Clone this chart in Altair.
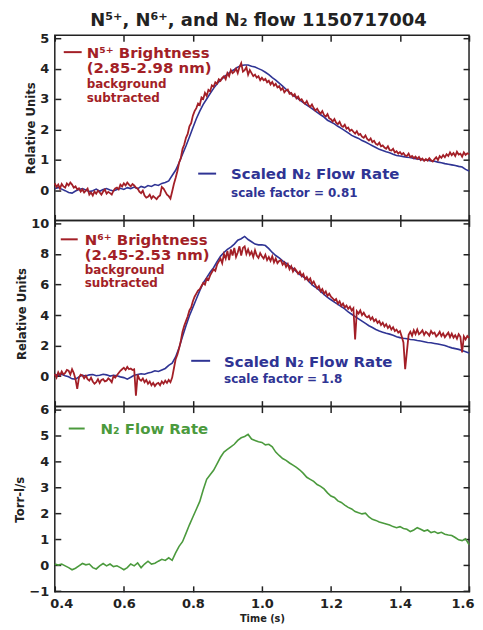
import altair as alt
import pandas as pd

# ---------------- data ----------------
# N5+ brightness, sampled every 0.005 s from 0.40 s to 1.60 s
n5_brightness = [
    0.22, 0.10, 0.18, 0.05, 0.20, 0.12, 0.08, 0.22, 0.15, 0.25,
    0.18, 0.08, 0.12, 0.02, 0.06, -0.05, 0.02, -0.08, -0.02, 0.05,
    -0.15, -0.08, -0.18, -0.05, -0.12, -0.02, -0.08, -0.15, -0.05, 0.02,
    -0.12, -0.06, -0.10, -0.15, -0.02, 0.05, 0.08, 0.02, 0.18, 0.12,
    0.22, 0.15, 0.25, 0.18, 0.12, 0.20, 0.15, 0.08, 0.05, -0.05,
    -0.10, -0.02, -0.18, -0.25, -0.22, -0.15, -0.28, -0.20, -0.25, -0.30,
    -0.22, -0.18, 0.10, 0.05, -0.05, -0.15, -0.20, -0.28, -0.05, 0.20,
    0.40, 0.62, 0.90, 1.05, 1.35, 1.50, 1.72, 1.85, 2.10, 2.20,
    2.45, 2.60, 2.70, 2.85, 2.80, 3.05, 3.00, 3.20, 3.10, 3.30,
    3.25, 3.45, 3.40, 3.55, 3.50, 3.65, 3.60, 3.70, 3.75, 3.65,
    3.85, 3.75, 3.95, 3.85, 3.90, 4.00, 3.85, 4.05, 4.18, 3.90,
    3.95, 4.05, 3.80, 3.95, 3.85, 3.75, 3.80, 3.70, 3.75, 3.62,
    3.70, 3.62, 3.66, 3.55, 3.60, 3.48, 3.56, 3.44, 3.50, 3.38,
    3.42, 3.30, 3.36, 3.22, 3.28, 3.31, 3.17, 3.20, 3.10, 3.16,
    3.02, 3.08, 2.96, 2.99, 2.90, 2.84, 2.93, 2.80, 2.74, 2.82,
    2.70, 2.62, 2.68, 2.58, 2.52, 2.60, 2.47, 2.42, 2.50, 2.36,
    2.33, 2.26, 2.34, 2.22, 2.17, 2.25, 2.12, 2.08, 2.15, 2.02,
    2.06, 1.95, 1.99, 1.92, 1.86, 1.94, 1.82, 1.85, 1.76, 1.72,
    1.80, 1.68, 1.63, 1.70, 1.58, 1.62, 1.52, 1.49, 1.56, 1.44,
    1.47, 1.40, 1.36, 1.44, 1.32, 1.30, 1.36, 1.24, 1.28, 1.20,
    1.25, 1.17, 1.22, 1.14, 1.12, 1.20, 1.08, 1.12, 1.05, 1.10,
    1.03, 1.09, 0.99, 1.04, 0.96, 1.02, 0.97, 1.05, 0.98, 0.94,
    1.02, 1.08, 0.99, 1.12, 1.06, 1.15, 1.08, 1.18, 1.12, 1.24,
    1.15, 1.22, 1.12, 1.26, 1.17, 1.20, 1.10, 1.24, 1.16, 1.21,
    1.18,
]

# N6+ brightness, sampled every 0.005 s from 0.40 s to 1.60 s
n6_brightness = [
    0.15, -0.10, 0.25, 0.05, 0.30, 0.10, 0.20, 0.40, 0.35, 0.10,
    0.45, 0.20, -0.20, -0.84, -0.10, 0.10, 0.05, -0.15, 0.02, -0.20,
    -0.30, -0.10, -0.35, -0.50, -0.40, -0.20, -0.45, -0.25, -0.20, -0.35,
    -0.30, -0.15, -0.25, -0.40, 0.00, -0.10, 0.05, 0.20, 0.35, 0.45,
    0.55, 0.40, 0.60, 0.45, 0.50, 0.40, 0.45, -1.28, 0.10, -0.20,
    -0.30, -0.15, -0.40, -0.25, -0.50, -0.35, -0.60, -0.45, -0.65, -0.50,
    -0.45, -0.60, -0.35, -0.50, -0.30, -0.45, -0.25, -0.40, -0.10, 0.50,
    1.10, 1.40, 1.80, 2.30, 2.90, 3.30, 3.60, 3.90, 4.30, 4.50,
    4.90, 5.20, 5.40, 5.60, 5.70, 5.90, 6.10, 6.00, 6.40, 6.30,
    6.60, 6.80, 7.00, 6.90, 7.30, 7.50, 7.70, 7.40, 8.00, 7.70,
    8.20, 7.60, 8.30, 7.90, 8.40, 7.80, 8.10, 8.50, 7.90, 8.40,
    8.50, 8.00, 8.30, 7.95, 8.15, 7.80, 8.25, 7.90, 7.75, 8.05,
    7.85, 7.70, 7.95, 7.60, 7.80, 7.55, 7.85, 7.45, 7.70, 7.40,
    7.55, 7.60, 7.30, 7.45, 7.15, 7.35, 7.00, 7.20, 6.85, 7.05,
    6.90, 6.70, 6.85, 6.55, 6.70, 6.35, 6.50, 6.25, 6.40, 6.05,
    6.20, 5.95, 5.75, 5.90, 5.55, 5.70, 5.40, 5.55, 5.25, 5.40,
    5.20, 5.10, 4.95, 5.05, 4.75, 4.90, 4.60, 4.75, 4.50, 4.62,
    4.40, 4.55, 4.30, 4.45, 2.40, 4.25, 4.10, 4.30, 4.00, 4.15,
    3.95, 3.85, 3.95, 3.70, 3.85, 3.60, 3.72, 3.48, 3.60, 3.35,
    3.50, 3.25, 3.40, 3.15, 3.30, 3.05, 3.20, 2.95, 3.05, 2.85,
    2.95, 2.60, 2.20, 0.45, 1.60, 2.70, 2.90, 2.65, 3.00, 2.75,
    3.05, 2.75, 2.85, 3.00, 2.70, 2.90, 2.80, 2.65, 2.95, 2.78,
    2.85, 2.60, 2.72, 2.90, 2.62, 2.80, 2.55, 2.70, 2.85, 2.55,
    2.78, 2.52, 2.68, 2.45, 2.75, 2.58, 1.55, 2.60, 2.40, 2.62,
    2.50,
]

# Scaled N2 flow rate in the top panel (x 0.81), every 0.01 s
scaled_flow_top = [
    0.05, 0.08, 0.03, -0.02, -0.08, -0.10, -0.03, 0.02, 0.05, 0.00,
    -0.05, -0.02, 0.03, -0.04, 0.02, 0.05, 0.00, -0.03, 0.02, 0.06,
    0.02, 0.08, 0.05, 0.10, 0.04, 0.12, 0.08, 0.15, 0.12, 0.18,
    0.15, 0.22, 0.25, 0.30, 0.48, 0.65, 0.90, 1.18, 1.45, 1.75,
    2.05, 2.35, 2.60, 2.82, 3.00, 3.18, 3.35, 3.50, 3.62, 3.72,
    3.82, 3.90, 3.97, 4.05, 4.10, 4.12, 4.12, 4.08, 4.05, 4.00,
    3.95, 3.88, 3.80, 3.70, 3.62, 3.52, 3.42, 3.32, 3.22, 3.12,
    3.05, 2.96, 2.88, 2.80, 2.72, 2.64, 2.56, 2.48, 2.40, 2.30,
    2.24, 2.18, 2.10, 2.03, 1.96, 1.88, 1.80, 1.75, 1.70, 1.63,
    1.58, 1.52, 1.46, 1.40, 1.34, 1.30, 1.26, 1.23, 1.18, 1.14,
    1.12, 1.10, 1.08, 1.07, 1.04, 1.02, 1.01, 0.99, 0.98, 0.96,
    0.95, 0.92, 0.90, 0.87, 0.85, 0.83, 0.81, 0.78, 0.76, 0.68,
    0.63,
]

# Scaled N2 flow rate in the middle panel (x 1.8), every 0.01 s
scaled_flow_mid = [
    0.10, 0.05, 0.12, 0.02, -0.05, -0.18, -0.20, -0.05, 0.05, 0.00,
    0.08, 0.10, 0.02, 0.05, 0.12, 0.08, 0.00, 0.05, 0.02, -0.05,
    -0.10, -0.20, -0.08, 0.05, 0.10, 0.15, 0.12, 0.20, 0.25, 0.35,
    0.30, 0.40, 0.50, 0.70, 0.85, 1.25, 1.85, 2.60, 3.30, 3.95,
    4.50, 5.05, 5.60, 6.10, 6.45, 6.80, 7.10, 7.50, 7.85, 8.10,
    8.30, 8.45, 8.65, 8.90, 9.00, 9.15, 8.95, 8.80, 8.65, 8.60,
    8.60, 8.55, 8.35, 8.10, 7.90, 7.75, 7.55, 7.40, 7.20, 7.05,
    6.85, 6.65, 6.50, 6.35, 6.10, 5.90, 5.75, 5.55, 5.35, 5.15,
    5.00, 4.85, 4.70, 4.55, 4.40, 4.20, 4.05, 3.90, 3.75, 3.60,
    3.45, 3.30, 3.18, 3.05, 2.95, 2.88, 2.80, 2.75, 2.68, 2.58,
    2.52, 2.48, 2.45, 2.40, 2.38, 2.33, 2.30, 2.25, 2.20, 2.18,
    2.14, 2.10, 2.05, 2.00, 1.92, 1.85, 1.80, 1.75, 1.68, 1.60,
    1.52,
]

# N2 flow rate (Torr-l/s), every 0.01 s
n2_flow = [
    0.04, 0.00, 0.04, -0.03, -0.10, -0.18, -0.12, -0.03, 0.06, 0.01,
    0.04, -0.10, -0.15, -0.03, 0.06, -0.03, 0.04, -0.06, -0.03, -0.10,
    -0.18, -0.10, 0.04, -0.03, 0.08, -0.10, 0.04, 0.15, 0.04, 0.07,
    0.15, 0.22, 0.18, 0.28, 0.18, 0.47, 0.72, 0.90, 1.22, 1.55,
    1.85, 2.15, 2.45, 2.90, 3.30, 3.48, 3.65, 3.90, 4.15, 4.35,
    4.45, 4.55, 4.65, 4.80, 4.90, 4.95, 5.03, 4.85, 4.80, 4.75,
    4.72, 4.63, 4.65, 4.55, 4.35, 4.22, 4.10, 4.03, 3.93, 3.85,
    3.76, 3.66, 3.53, 3.38, 3.30, 3.22, 3.10, 3.03, 2.93, 2.78,
    2.66, 2.60, 2.47, 2.41, 2.31, 2.22, 2.16, 2.06, 2.01, 1.97,
    2.00, 1.85, 1.76, 1.72, 1.66, 1.62, 1.58, 1.54, 1.48, 1.44,
    1.48, 1.41, 1.38, 1.29, 1.35, 1.44, 1.38, 1.31, 1.35, 1.25,
    1.29, 1.22, 1.26, 1.19, 1.16, 1.14, 1.06, 0.97, 0.94, 1.01,
    0.79,
]

x_ticks = [0.4, 0.6, 0.8, 1.0, 1.2, 1.4, 1.6]
y_ticks_top = [0, 1, 2, 3, 4, 5]
y_ticks_mid = [0, 2, 4, 6, 8, 10]
y_ticks_bot = [-1, 0, 1, 2, 3, 4, 5, 6]

title_text = "N\u2075\u207a, N\u2076\u207a, and N\u2082 flow 1150717004"

# ---------------- styling ----------------
FONT = "DejaVu Sans"
RED = "#a31f27"
BLUE = "#2f3494"
GREEN = "#4b9a3d"
INK = "#222222"
BIG = 15
SMALL = 12


def times(n, step):
    return [round(0.4 + i * step, 3) for i in range(n)]


def axis(orient, values, labels, title=None, fmt=None, flush=False, title_size=11.7):
    kw = dict(orient=orient, values=values, labels=labels, offset=-6, tickSize=6,
              domain=False, grid=False, labelPadding=6, labelFlush=flush,
              labelOverlap=False, title=title, titleFontSize=title_size)
    if flush:
        kw["labelFlushOffset"] = 5
    if fmt:
        kw["format"] = fmt
    return alt.Axis(**kw)


def text(label, x, y, size, color):
    return alt.Chart(pd.DataFrame({"k": [0]})).mark_text(
        text=label, align="left", baseline="alphabetic", font=FONT,
        fontSize=size, fontWeight="bold", color=color,
    ).encode(x=alt.value(x), y=alt.value(y))


def sample(x1, x2, y, color):
    return alt.Chart(pd.DataFrame({"k": [0]})).mark_rule(
        color=color, strokeWidth=2).encode(x=alt.value(x1), x2=alt.value(x2), y=alt.value(y))


X_SCALE = alt.Scale(domain=[0.4, 1.6], nice=False, zero=False)


def panel(main_vals, main_step, main_color, main_width, other_vals, other_step, other_color,
          other_opacity, ydom, yticks, ytitle, bottom_labels, height, extras):
    ys = alt.Scale(domain=ydom, nice=False, zero=False)
    d_main = pd.DataFrame({"t": times(len(main_vals), main_step), "v": main_vals})
    d_other = pd.DataFrame({"t": times(len(other_vals), other_step), "v": other_vals})
    other = alt.Chart(d_other).mark_line(color=other_color, strokeWidth=1.6, opacity=other_opacity).encode(
        x=alt.X("t:Q", scale=X_SCALE, axis=axis("top", x_ticks, False)),
        y=alt.Y("v:Q", scale=ys, axis=axis("right", yticks, False)),
    )
    main = alt.Chart(d_main).mark_line(color=main_color, strokeWidth=main_width).encode(
        x=alt.X("t:Q", scale=X_SCALE,
                axis=axis("bottom", x_ticks, bottom_labels,
                          title="Time (s)" if bottom_labels else None, fmt=".1f",
                          flush=bottom_labels, title_size=9.8)),
        y=alt.Y("v:Q", scale=ys, axis=axis("left", yticks, True, title=ytitle, fmt="d")),
    )
    return alt.layer(other, main, *extras).resolve_axis(x="independent", y="independent").properties(
        width=416, height=height)


top = panel(
    n5_brightness, 0.005, RED, 1.8, scaled_flow_top, 0.01, BLUE, 1,
    [-1, 5.1], y_ticks_top, "Relative Units", False, 186,
    [
        sample(9, 27, 17, RED),
        text("N\u2075\u207a Brightness", 32, 23, BIG, RED),
        text("(2.85-2.98 nm)", 32, 38, BIG, RED),
        text("background", 32, 53, SMALL, RED),
        text("subtracted", 32, 67, SMALL, RED),
        sample(144, 162, 139, BLUE),
        text("Scaled N\u2082 Flow Rate", 177, 144, BIG, BLUE),
        text("scale factor = 0.81", 177, 162, SMALL, BLUE),
    ],
)

mid = panel(
    n6_brightness, 0.005, RED, 1.8, scaled_flow_mid, 0.01, BLUE, 1,
    [-2, 10.2], y_ticks_mid, "Relative Units", False, 187,
    [
        sample(6, 23, 19, RED),
        text("N\u2076\u207a Brightness", 30, 25, BIG, RED),
        text("(2.45-2.53 nm)", 30, 40, BIG, RED),
        text("background", 30, 54, SMALL, RED),
        text("subtracted", 30, 67, SMALL, RED),
        sample(137, 156, 141, BLUE),
        text("Scaled N\u2082 Flow Rate", 170, 147, BIG, BLUE),
        text("scale factor = 1.8", 170, 163, SMALL, BLUE),
    ],
)

bot = panel(
    n2_flow, 0.01, GREEN, 1.6, n2_flow, 0.01, GREEN, 0,
    [-1.03, 6.1], y_ticks_bot, "Torr-l/s", True, 186,
    [
        sample(14, 30, 22, GREEN),
        text("N\u2082 Flow Rate", 46, 27, BIG, GREEN),
    ],
)

chart = alt.vconcat(top, mid, bot, spacing=0, bounds="flush").properties(
    title=alt.TitleParams(title_text, font=FONT, fontSize=18, fontWeight="bold",
                          color=INK, anchor="middle", offset=2, dx=14),
    padding={"left": 6, "top": 2, "right": 0, "bottom": 0},
).configure_view(
    stroke=INK, strokeWidth=1.5
).configure_axis(
    labelFont=FONT, labelFontSize=13, labelFontWeight="bold", labelColor=INK,
    titleFont=FONT, titleFontWeight="bold", titleColor=INK,
    tickColor=INK, tickWidth=1.5, titlePadding=3,
)

chart.save("out.html", embed_options={"renderer": "svg", "actions": False})
